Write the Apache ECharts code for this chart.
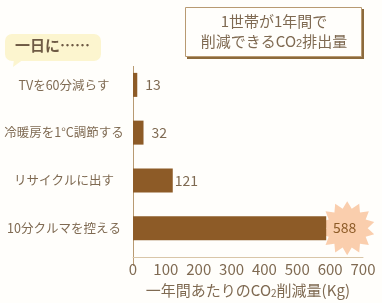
<!DOCTYPE html>
<html>
<head>
<meta charset="utf-8">
<script src="https://cdn.jsdelivr.net/npm/echarts@6/dist/echarts.min.js"></script>
<style>
  html, body { margin: 0; padding: 0; background: #fffefb; }
  #chart { width: 382px; height: 303px; }
</style>
</head>
<body>
<div id="chart"></div>
<script>
// data
var categories = ['TVを60分減らす', '冷暖房を1°C調節する', 'リサイクルに出す', '10分クルマを控える']
var savings = [13, 32, 121, 588]
var xTicks = [0, 100, 200, 300, 400, 500, 600, 700]

var textColor = '#7f6a52'
var barColor = '#8d5b27'
var font = '"Noto Sans CJK JP", "Noto Sans", sans-serif'

// 爆発マーク（ギザギザの星）
function starPath (points, inner) {
  var d = ''
  for (var i = 0; i < points * 2; i++) {
    var r = i % 2 === 0 ? 1 : inner
    var a = Math.PI * i / points - Math.PI / 2
    var x = (50 + 50 * r * Math.cos(a)).toFixed(2)
    var y = (50 + 50 * r * Math.sin(a)).toFixed(2)
    d += (i === 0 ? 'M' : 'L') + x + ' ' + y
  }
  return 'path://' + d + 'Z'
}

var chart = echarts.init(document.getElementById('chart'))

var option = {
  backgroundColor: '#fffefb',
  textStyle: { fontFamily: font },
  grid: {
    left: 133,
    right: 19,
    top: 61,
    height: 200
  },
  xAxis: {
    type: 'value',
    min: 0,
    max: 700,
    interval: 100,
    offset: 5,
    axisLine: { show: true, lineStyle: { color: '#d9c6a8', width: 1 } },
    axisTick: { show: false },
    splitLine: { show: false },
    axisLabel: {
      color: textColor,
      fontSize: 15,
      margin: 5,
      formatter: function (v) { return xTicks.indexOf(v) >= 0 ? String(v) : '' }
    },
    name: '一年間あたりのCO{s|2}削減量(Kg)',
    nameLocation: 'middle',
    nameGap: 25,
    nameTextStyle: {
      color: textColor,
      fontSize: 15,
      rich: { s: { fontSize: 10, color: textColor, padding: [6, 0, 0, 0] } }
    }
  },
  yAxis: {
    type: 'category',
    inverse: true,
    data: categories,
    axisLine: { show: false },
    axisTick: { show: false },
    axisLabel: {
      color: textColor,
      fontSize: 12.5,
      align: 'center',
      margin: 69
    }
  },
  series: [
    {
      type: 'bar',
      data: savings.map(function (v, i) {
        return {
          value: v,
          label: i === 3
            ? { position: 'insideRight', distance: 0, offset: [30, 0], color: '#8d5b27' }
            : { position: 'right', distance: i === 2 ? 2 : 8 }
        }
      }),
      barWidth: 24,
      itemStyle: { color: barColor },
      label: {
        show: true,
        color: textColor,
        fontSize: 14
      },
      z: 3
    },
    {
      type: 'scatter',
      data: [[savings[3], categories[3]]],
      symbol: starPath(14, 0.74),
      symbolSize: 54,
      symbolOffset: [21, 0],
      itemStyle: { color: '#f9c29a' },
      silent: true,
      z: 2
    }
  ],
  graphic: [
    // 縦軸の線
    {
      type: 'line',
      shape: { x1: 133.5, y1: 66, x2: 133.5, y2: 266 },
      style: { stroke: '#b89a72', lineWidth: 1 }
    },
    // 吹き出し
    {
      type: 'rect',
      left: 5, top: 34,
      shape: { width: 96, height: 27, r: 7 },
      style: { fill: '#fcf5cf' }
    },
    {
      type: 'polygon',
      shape: { points: [[14, 59], [24, 59], [13, 67]] },
      style: { fill: '#fcf5cf' }
    },
    {
      type: 'text',
      left: 15, top: 38,
      style: { text: '一日に……', fill: '#6e5a44', font: 'bold 15px ' + font }
    },
    // タイトルの枠
    {
      type: 'rect',
      left: 187, top: 9,
      shape: { width: 177, height: 50 },
      style: { fill: '#8c6a3c' }
    },
    {
      type: 'rect',
      left: 185, top: 7,
      shape: { width: 176, height: 49 },
      style: { fill: '#fffefb', stroke: '#b89a72', lineWidth: 1 }
    },
    {
      type: 'text',
      x: 274, y: 11,
      style: {
        text: '1世帯が1年間で\n削減できるCO{s|2}排出量',
        fill: textColor,
        font: '15px ' + font,
        align: 'center',
        lineHeight: 20,
        rich: { s: { fontSize: 11, fill: textColor, padding: [6, 0, 0, 0] } }
      }
    }
  ]
}

chart.setOption(option)
</script>
</body>
</html>
